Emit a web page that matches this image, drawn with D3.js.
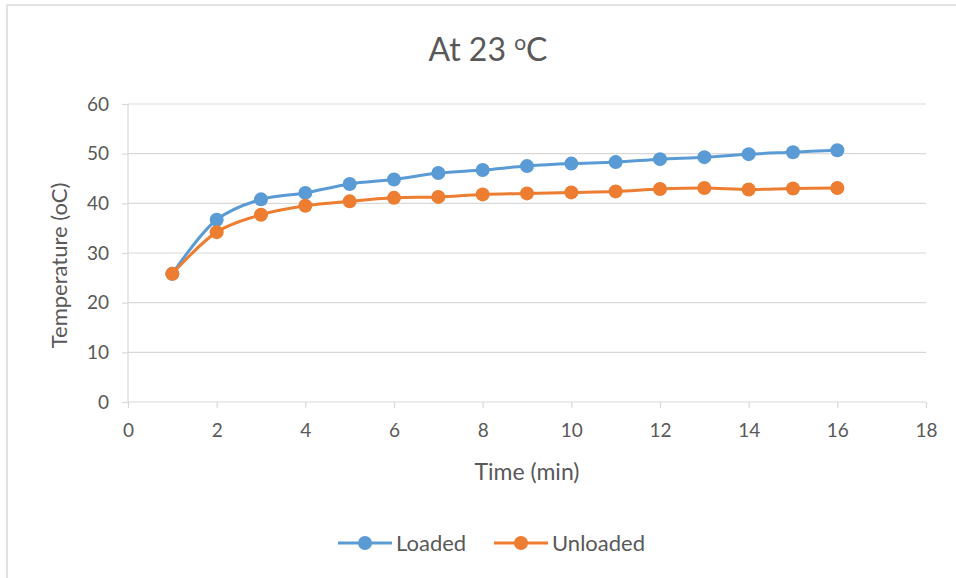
<!DOCTYPE html>
<html>
<head>
<meta charset="utf-8">
<script src="https://cdn.jsdelivr.net/npm/d3@7"></script>
<style>
  html, body { margin: 0; padding: 0; background: #fff; }
  svg { display: block; font-family: Lato, "Open Sans", sans-serif; }
</style>
</head>
<body>
<svg id="chart" width="956" height="578"></svg>
<script>
// Time in minutes and temperature readings for both series
const time = [1, 2, 3, 4, 5, 6, 7, 8, 9, 10, 11, 12, 13, 14, 15, 16];
const loaded = [25.8, 36.7, 40.8, 42.1, 43.9, 44.8, 46.1, 46.7, 47.5, 48.0, 48.3, 48.9, 49.3, 49.9, 50.3, 50.7];
const unloaded = [25.8, 34.2, 37.7, 39.5, 40.4, 41.1, 41.3, 41.8, 42.0, 42.2, 42.4, 42.9, 43.1, 42.8, 43.0, 43.1];
const xTicks = [0, 2, 4, 6, 8, 10, 12, 14, 16, 18];
const yTicks = [0, 10, 20, 30, 40, 50, 60];
const seriesNames = ["Loaded", "Unloaded"];
const seriesColors = ["#5b9bd5", "#ed7d31"];

const svg = d3.select("#chart");
const textColor = "#595959";
const gridColor = "#d9d9d9";
const fontFamily = "Lato, 'Open Sans', sans-serif";

// Outer chart frame
svg.append("rect")
  .attr("x", 7).attr("y", 5).attr("width", 960).attr("height", 600)
  .attr("fill", "#fff").attr("stroke", gridColor).attr("stroke-width", 1.5);

const x = d3.scaleLinear().domain([0, 18]).range([128, 926]);
const y = d3.scaleLinear().domain([0, 60]).range([402, 104]);

// Horizontal gridlines
svg.append("g").selectAll("line").data(yTicks.filter(d => d > 0)).join("line")
  .attr("x1", x(0)).attr("x2", x(18))
  .attr("y1", d => y(d)).attr("y2", d => y(d))
  .attr("stroke", gridColor).attr("stroke-width", 1.2);

// Y axis
const yAxis = svg.append("g").attr("transform", `translate(${x(0)},0)`)
  .call(d3.axisLeft(y).tickValues(yTicks).tickSize(6).tickPadding(13));
yAxis.select(".domain").attr("stroke", gridColor).attr("stroke-width", 1.2)
  .attr("d", `M0,${y(60)}V${y(0)}`);
yAxis.selectAll(".tick line").attr("stroke", gridColor).attr("stroke-width", 1.2);
yAxis.selectAll(".tick text").attr("fill", textColor).attr("font-size", 19)
  .attr("font-family", fontFamily);

// X axis
const xAxis = svg.append("g").attr("transform", `translate(0,${y(0)})`)
  .call(d3.axisBottom(x).tickValues(xTicks).tickSize(6).tickPadding(16));
xAxis.select(".domain").attr("stroke", gridColor).attr("stroke-width", 1.2)
  .attr("d", `M${x(0)},0H${x(18)}`);
xAxis.selectAll(".tick line").attr("stroke", gridColor).attr("stroke-width", 1.2)
  .attr("y1", 0).attr("y2", 6);
xAxis.selectAll(".tick text").attr("fill", textColor).attr("font-size", 19)
  .attr("font-family", fontFamily);

// Title
const title = svg.append("text")
  .attr("x", 488).attr("y", 61).attr("text-anchor", "middle")
  .attr("fill", textColor).attr("font-size", 32);
title.append("tspan").text("At 23 ");
title.append("tspan").text("o").attr("font-size", 21).attr("dy", -11);
title.append("tspan").text("C").attr("dy", 11);

// Axis titles
svg.append("text")
  .attr("x", 527).attr("y", 480).attr("text-anchor", "middle")
  .attr("fill", textColor).attr("font-size", 23).text("Time (min)");
svg.append("text")
  .attr("transform", `translate(67,${y(27.5)}) rotate(-90)`)
  .attr("text-anchor", "middle")
  .attr("fill", textColor).attr("font-size", 22).text("Temperature (oC)");

// Series lines and markers
const seriesData = [loaded, unloaded];
const line = d3.line()
  .x((d, i) => x(time[i]))
  .y(d => y(d))
  .curve(d3.curveCatmullRom.alpha(0.5));

seriesData.forEach((vals, s) => {
  const g = svg.append("g");
  g.append("path").datum(vals)
    .attr("d", line).attr("fill", "none")
    .attr("stroke", seriesColors[s]).attr("stroke-width", 3)
    .attr("stroke-linejoin", "round").attr("stroke-linecap", "round");
  g.selectAll("circle").data(vals).join("circle")
    .attr("cx", (d, i) => x(time[i])).attr("cy", d => y(d))
    .attr("r", 7).attr("fill", seriesColors[s]);
});

// Legend
const legendX = [338, 494];
legendX.forEach((lx, s) => {
  const g = svg.append("g").attr("transform", `translate(${lx},543)`);
  g.append("line").attr("x1", 0).attr("x2", 54).attr("y1", 0).attr("y2", 0)
    .attr("stroke", seriesColors[s]).attr("stroke-width", 3);
  g.append("circle").attr("cx", 27).attr("cy", 0).attr("r", 7).attr("fill", seriesColors[s]);
  g.append("text").attr("x", 58).attr("y", 8).attr("fill", textColor)
    .attr("font-size", 22).text(seriesNames[s]);
});
</script>
</body>
</html>
